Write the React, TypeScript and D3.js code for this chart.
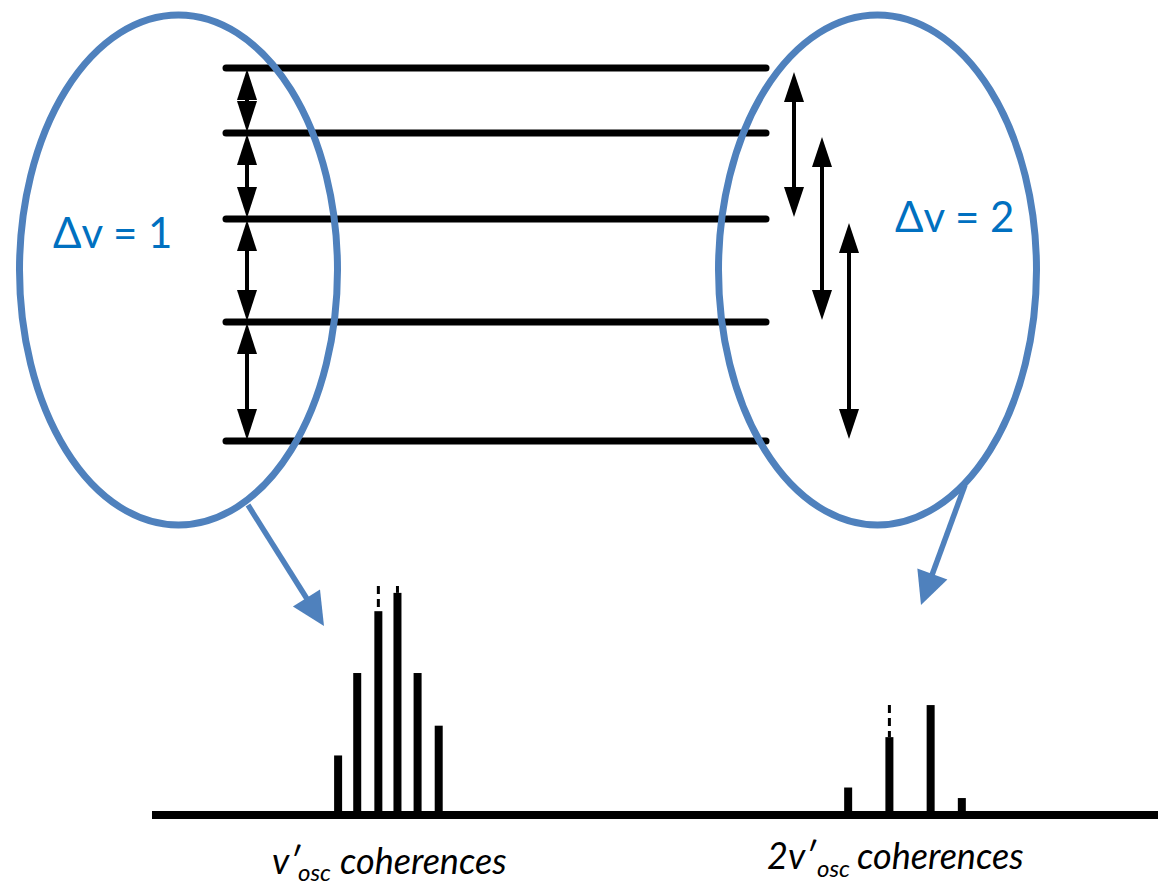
import React, { useEffect, useRef } from 'react';
import * as d3 from 'd3';

// vibrational levels (arbitrary energy units, v = 0 .. 4)
const levelEnergies = [0, 3.19, 5.95, 8.26, 10];
// Δv = 1 transitions (lower, upper)
const dv1Pairs: [number, number][] = [[0, 1], [1, 2], [2, 3], [3, 4]];
// Δv = 2 transitions (upper, lower)
const dv2Pairs: [number, number][] = [[4, 2], [3, 1], [2, 0]];

// spectrum, frequency in arbitrary units, intensity normalised
const leftBarFreq = [18.5, 20.4, 22.5, 24.4, 26.4, 28.5];
const leftBarIntensity = [0.26, 0.62, 0.89, 0.97, 0.62, 0.39];
const rightBarFreq = [69.2, 73.3, 77.4, 80.5];
const rightBarIntensity = [0.12, 0.34, 0.48, 0.074];
// dashed envelope extensions above some bars
const dashedFreq = [22.5, 24.4, 73.3];
const dashedFrom = [0.89, 0.97, 0.34];
const dashedTop = [1.0, 1.0, 0.48];

const deltaLabels = ['Δv = 1', 'Δv = 2'];

const BLUE_LINE = '#4F81BD';
const BLUE_TEXT = '#0070C0';
const FONT = "Lato, 'Open Sans', 'DejaVu Sans', sans-serif";

const Diagram = () => {
  const svgRef = useRef<SVGSVGElement | null>(null);

  useEffect(() => {
    const svg = d3.select(svgRef.current);
    svg.selectAll('*').remove();

    const yLev = d3.scaleLinear().domain([0, 10]).range([441, 68]);
    const xSpec = d3.scaleLinear().domain([0, 100]).range([152, 1158]);
    const yInt = d3.scaleLinear().domain([0, 1]).range([815, 586]);

    const triangle = (tipX: number, tipY: number, dx: number, dy: number, len: number, half: number) => {
      // dx,dy is unit direction pointing toward the tip
      const bx = tipX - dx * len;
      const by = tipY - dy * len;
      const px = -dy;
      const py = dx;
      return `M${tipX},${tipY}L${bx + px * half},${by + py * half}L${bx - px * half},${by - py * half}Z`;
    };

    const doubleArrow = (g: any, x: number, yTop: number, yBot: number, headLen: number, half: number) => {
      const h = Math.min(headLen, (yBot - yTop) / 2);
      g.append('line')
        .attr('x1', x).attr('x2', x)
        .attr('y1', yTop + h - 1).attr('y2', yBot - h + 1)
        .attr('stroke', '#000').attr('stroke-width', 4);
      g.append('path').attr('d', triangle(x, yTop, 0, -1, h, half)).attr('fill', '#000');
      g.append('path').attr('d', triangle(x, yBot, 0, 1, h, half)).attr('fill', '#000');
    };

    // energy levels
    const levels = svg.append('g');
    levels.selectAll('line')
      .data(levelEnergies)
      .enter()
      .append('line')
      .attr('x1', 226).attr('x2', 766)
      .attr('y1', (d) => yLev(d)).attr('y2', (d) => yLev(d))
      .attr('stroke', '#000').attr('stroke-width', 7)
      .attr('stroke-linecap', 'round');

    // Δv = 1 arrows
    const arrows = svg.append('g');
    dv1Pairs.forEach(([lo, hi]) => {
      doubleArrow(arrows, 247, yLev(levelEnergies[hi]) + 1, yLev(levelEnergies[lo]) - 1, 31, 10);
    });

    // Δv = 2 arrows
    const dv2X = [794, 822, 849];
    dv2Pairs.forEach(([hi, lo], i) => {
      doubleArrow(arrows, dv2X[i], yLev(levelEnergies[hi]) + 4, yLev(levelEnergies[lo]) - 2, 30, 10);
    });

    // ellipses
    const ell = svg.append('g');
    [178.5, 877.5].forEach((cx) => {
      ell.append('ellipse')
        .attr('cx', cx).attr('cy', 270)
        .attr('rx', 159).attr('ry', 255)
        .attr('fill', 'none')
        .attr('stroke', BLUE_LINE).attr('stroke-width', 7);
    });

    // blue pointer arrows
    const pointers = [
      { x1: 248, y1: 505, x2: 324, y2: 626 },
      { x1: 965, y1: 485, x2: 921, y2: 605 },
    ];
    pointers.forEach((p) => {
      const L = Math.hypot(p.x2 - p.x1, p.y2 - p.y1);
      const dx = (p.x2 - p.x1) / L;
      const dy = (p.y2 - p.y1) / L;
      ell.append('line')
        .attr('x1', p.x1).attr('y1', p.y1)
        .attr('x2', p.x2 - dx * 25).attr('y2', p.y2 - dy * 25)
        .attr('stroke', BLUE_LINE).attr('stroke-width', 5.5);
      ell.append('path').attr('d', triangle(p.x2, p.y2, dx, dy, 33, 16)).attr('fill', BLUE_LINE);
    });

    // Δv labels
    const labelPos = [{ x: 53, y: 248 }, { x: 895, y: 232 }];
    svg.append('g')
      .selectAll('text')
      .data(deltaLabels)
      .enter()
      .append('text')
      .attr('x', (d, i) => labelPos[i].x)
      .attr('y', (d, i) => labelPos[i].y)
      .attr('font-family', FONT)
      .attr('font-size', 42)
      .attr('fill', BLUE_TEXT)
      .text((d) => d);

    // spectrum baseline
    const spec = svg.append('g');
    spec.append('line')
      .attr('x1', xSpec(0)).attr('x2', xSpec(100))
      .attr('y1', yInt(0)).attr('y2', yInt(0))
      .attr('stroke', '#000').attr('stroke-width', 8);

    const bars = [
      ...leftBarFreq.map((f, i) => ({ f, v: leftBarIntensity[i] })),
      ...rightBarFreq.map((f, i) => ({ f, v: rightBarIntensity[i] })),
    ];
    spec.selectAll('rect.bar')
      .data(bars)
      .enter()
      .append('rect')
      .attr('class', 'bar')
      .attr('x', (d) => xSpec(d.f) - 4)
      .attr('y', (d) => yInt(d.v))
      .attr('width', 8)
      .attr('height', (d) => yInt(0) - yInt(d.v) + 4)
      .attr('fill', '#000');

    spec.selectAll('line.dash')
      .data(dashedFreq)
      .enter()
      .append('line')
      .attr('class', 'dash')
      .attr('x1', (d) => xSpec(d)).attr('x2', (d) => xSpec(d))
      .attr('y1', (d, i) => yInt(dashedTop[i]))
      .attr('y2', (d, i) => yInt(dashedFrom[i]))
      .attr('stroke', '#000').attr('stroke-width', 3)
      .attr('stroke-dasharray', '8,5');

    // bottom labels
    const lab = svg.append('g')
      .attr('font-family', FONT)
      .attr('font-style', 'italic')
      .attr('fill', '#000');

    const t1 = lab.append('text').attr('y', 874).attr('font-size', 36);
    t1.append('tspan').attr('x', 272).text('v′');
    t1.append('tspan').attr('x', 298).attr('y', 881).attr('font-size', 24).text('osc');
    t1.append('tspan').attr('x', 340).attr('y', 874).text('coherences');

    const t2 = lab.append('text').attr('y', 869).attr('font-size', 36);
    t2.append('tspan').attr('x', 767).text('2v′');
    t2.append('tspan').attr('x', 817).attr('y', 877).attr('font-size', 24).text('osc');
    t2.append('tspan').attr('x', 857).attr('y', 869).text('coherences');

    return () => {
      svg.selectAll('*').remove();
    };
  }, []);

  return (
    <svg
      ref={svgRef}
      width={1158}
      height={885}
      style={{ position: 'absolute', left: 0, top: 0, background: '#fff' }}
    />
  );
};

export default function App() {
  return <Diagram />;
}
